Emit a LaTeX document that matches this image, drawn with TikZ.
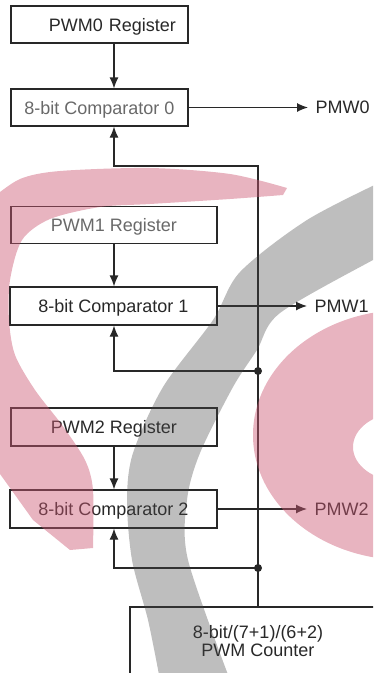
\documentclass[tikz,border=0pt]{standalone}
\usepackage{fontspec}
\setmainfont{Liberation Sans}
\usetikzlibrary{arrows.meta}
\definecolor{linegray}{RGB}{40,40,40}
\definecolor{textfaint}{RGB}{105,105,105}
\definecolor{wmred}{RGB}{204,88,115}
\definecolor{wmgray}{RGB}{70,70,70}
\begin{document}
\begin{tikzpicture}[x=1pt, y=-1pt, line width=1.2pt, color=linegray,
    every node/.style={font=\fontsize{18}{18}\selectfont},
    box/.style={draw, rectangle, inner sep=0pt, minimum height=37pt, text height=13pt, text depth=0pt},
    tip/.style={-{Latex[length=11pt,width=9pt]}},
    faint/.style={text=textfaint}]
    \useasboundingbox (0,0) rectangle (373,673);
    \clip (0,0) rectangle (373,673);

    % registers and comparators
    \node[box, minimum width=177pt, text width=153pt, align=right] (reg0) at (99.5,24.5) {PWM0 Register};
    \node[box, faint, minimum width=177pt] (cmp0) at (99.5,107.5) {8-bit Comparator 0};
    \node[box, faint, minimum width=206pt] (reg1) at (114,225) {PWM1 Register};
    \node[box, minimum width=207pt, minimum height=38pt] (cmp1) at (113.5,306) {8-bit Comparator 1};
    \node[box, minimum width=206pt, minimum height=38pt] (reg2) at (114,427) {PWM2 Register};
    \node[box, minimum width=207pt, minimum height=38pt] (cmp2) at (113.5,509) {8-bit Comparator 2};
    \node[draw, minimum width=256pt, minimum height=68pt, align=center] (cnt) at (258,641) {8-bit/(7+1)/(6+2)\\PWM Counter};

    % outputs
    \node[anchor=west, inner xsep=7pt] (out0) at (308,107.5) {PMW0};
    \node[anchor=west, inner xsep=7pt] (out1) at (307,306) {PMW1};
    \node[anchor=west, inner xsep=7pt] (out2) at (307,509) {PMW2};
    \draw[tip] (cmp0.east) -- (out0.west);
    \draw[tip] (cmp1.east) -- (out1.west);
    \draw[tip] (cmp2.east) -- (out2.west);

    % register to comparator
    \coordinate (col) at (114,0);
    \draw[tip] (col |- reg0.south) -- (col |- cmp0.north);
    \draw[tip] (col |- reg1.south) -- (col |- cmp1.north);
    \draw[tip] (col |- reg2.south) -- (col |- cmp2.north);

    % counter bus
    \coordinate (bus) at (258,166);
    \coordinate (j1) at (258,371);
    \coordinate (j2) at (258,568);
    \draw[tip] (cnt.north) -- (bus) -| (col |- cmp0.south);
    \draw[tip] (j1) -| (col |- cmp1.south);
    \draw[tip] (j2) -| (col |- cmp2.south);
    \fill (j1) circle (4pt);
    \fill (j2) circle (4pt);

    % watermark
    \fill[wmred, opacity=0.45] (-10,200) -- plot[smooth, tension=0.5] coordinates {(-10,200) (20,179) (60,171) (150,168) (230,174) (287,188)}
        -- plot[smooth, tension=0.5] coordinates {(283,195) (230,199) (150,204) (100,207) (50,219) (22,240) (10,280) (9,320) (15,355) (35,390) (62,425) (85,460) (93,490) (93,548)}
        -- (70,550) -- (33,520) -- (-10,460) -- cycle;
    \fill[wmred, opacity=0.45, even odd rule] (405,435) ellipse [x radius=152pt, y radius=125pt] (400,447) ellipse [x radius=47pt, y radius=34pt];
    \fill[wmgray, opacity=0.35] plot[smooth, tension=0.5] coordinates {(385,180) (307,220) (240,272) (213,320) (163,387) (133,453) (127,500) (132,560) (148,620) (160,680)}
        -- plot[smooth, tension=0.5] coordinates {(230,680) (188,560) (187,500) (200,453) (233,387) (257,350) (280,313) (373,260) (385,255)} -- cycle;
\end{tikzpicture}
\end{document}
